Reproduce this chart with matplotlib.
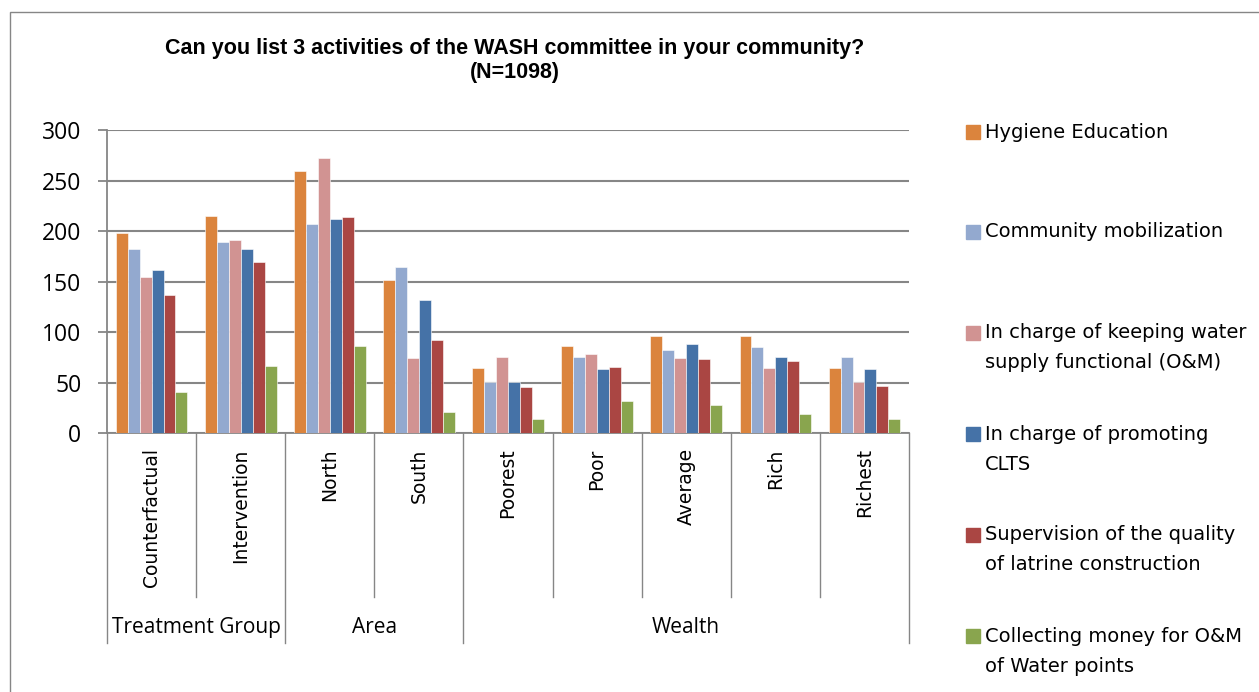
import matplotlib.pyplot as plt
import matplotlib.transforms as mtransforms
from matplotlib.patches import Rectangle
import numpy as np

categories = ["Counterfactual", "Intervention", "North", "South", "Poorest",
              "Poor", "Average", "Rich", "Richest"]
groups = ["Treatment Group", "Area", "Wealth"]
group_sizes = [2, 2, 5]

series_names = [
    "Hygiene Education",
    "Community mobilization",
    "In charge of keeping water\nsupply functional (O&M)",
    "In charge of promoting\nCLTS",
    "Supervision of the quality\nof latrine construction",
    "Collecting money for O&M\nof Water points",
]
hygiene = [198, 215, 260, 152, 65, 86, 96, 96, 65]
mobilization = [182, 189, 207, 164, 51, 75, 82, 85, 75]
keeping_water = [155, 191, 272, 74, 75, 78, 74, 65, 51]
promoting_clts = [162, 182, 212, 132, 51, 64, 88, 75, 64]
supervision = [137, 169, 214, 92, 46, 66, 73, 71, 47]
collecting = [41, 67, 86, 21, 14, 32, 28, 19, 14]
series = [hygiene, mobilization, keeping_water, promoting_clts, supervision, collecting]
colors = ["#DB843D", "#93A9CF", "#D19392", "#4572A7", "#AA4643", "#89A54E"]

W, H = 1259, 692
grey = "#868686"

fig = plt.figure(figsize=(W / 100, H / 100), dpi=100)
ax = fig.add_axes([0.085, 0.374, 0.637, 0.438])

x = np.arange(len(categories))
width = 0.134
for i, (vals, c) in enumerate(zip(series, colors)):
    ax.bar(x + (i - 2.5) * width, vals, width, color=c, edgecolor="white",
           linewidth=0.4, zorder=3)

ax.set_xlim(-0.5, len(categories) - 0.5)
ax.set_ylim(0, 300)
ax.set_yticks(range(0, 301, 50))
ax.set_yticklabels([str(v) for v in range(0, 301, 50)], fontsize=16.5,
                   family="Open Sans")
ax.yaxis.grid(True, color=grey, linewidth=1.5, zorder=0)
ax.tick_params(axis="y", length=6.5, width=1.3, color=grey, pad=12)
ax.set_xticks([])
for s in ["top", "right"]:
    ax.spines[s].set_visible(False)
for s in ["left", "bottom"]:
    ax.spines[s].set_color(grey)
    ax.spines[s].set_linewidth(1.3)

# category axis: rotated labels and separator lines
trans = mtransforms.blended_transform_factory(ax.transData, ax.transAxes)
for xi, name in zip(x, categories):
    ax.text(xi, -0.05, name, transform=trans, rotation=90, ha="center",
            va="top", fontsize=13.5, family="DejaVu Sans")

edges = np.cumsum([0] + group_sizes) - 0.5
for b in np.arange(len(categories) + 1) - 0.5:
    depth = -0.693 if np.isclose(edges, b).any() else -0.541
    ax.plot([b, b], [0, depth], transform=trans, color=grey, linewidth=1.0,
            clip_on=False)
for g, lo, hi in zip(groups, edges[:-1], edges[1:]):
    ax.text((lo + hi) / 2, -0.64, g, transform=trans, ha="center", va="center",
            fontsize=15, family="Open Sans")

fig.text(0.409, 0.913, "Can you list 3 activities of the WASH committee in your community?\n(N=1098)",
         ha="center", va="center", fontsize=15.5, fontweight="bold",
         family="Liberation Sans", linespacing=1.2)

# legend built by hand so each entry sits on its own row
leg_y = [132, 232, 333, 434, 535, 636]
for name, c, yp in zip(series_names, colors, leg_y):
    fig.add_artist(Rectangle((966 / W, 1 - (yp + 7) / H), 14 / W, 14 / H,
                             transform=fig.transFigure, color=c))
    for k, line in enumerate(name.split("\n")):
        fig.text(985 / W, 1 - (yp + 30 * k) / H, line, ha="left", va="center",
                 fontsize=14, family="DejaVu Sans")

fig.add_artist(Rectangle((10 / W, -0.05), 1.2, 1 - 12 / H + 0.05,
                         transform=fig.transFigure, fill=False,
                         edgecolor=grey, linewidth=1.0))

fig.savefig("out.png", dpi=100)
